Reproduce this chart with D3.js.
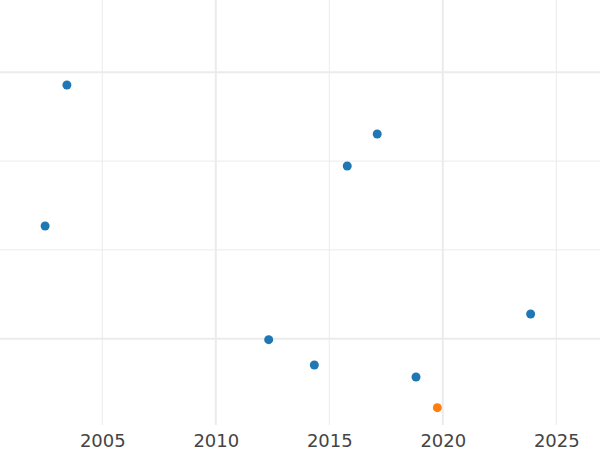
<!DOCTYPE html>
<html>
<head>
<meta charset="utf-8">
<script src="https://cdn.jsdelivr.net/npm/d3@7"></script>
<style>
  body { margin: 0; background: #fff; }
  svg { display: block; }
</style>
</head>
<body>
<svg></svg>
<script>
// dimensions
var WIDTH = 600;
var HEIGHT = 450;
var plotBottom = 425;

// data
const years  = [2003.44, 2002.48, 2017.11, 2015.79, 2012.33, 2014.34, 2018.82, 2023.87, 2019.76];
const values = [2.857, 1.269, 2.305, 1.945, -0.011, -0.296, -0.431, 0.278, -0.777];
const groups = ["a", "a", "a", "a", "a", "a", "a", "a", "b"];

// ticks
const xTicks = [2005, 2010, 2015, 2020, 2025];
const xMajor = [2010, 2020];
const yTicks = [0, 1, 2, 3];
const yMajor = [0, 3];

const svg = d3.select('svg')
    .attr('width', WIDTH)
    .attr('height', HEIGHT);

var x = d3.scaleLinear()
    .domain([2000.493, 2026.925])
    .range([0, WIDTH]);

var y = d3.scaleLinear()
    .domain([-0.972, 3.814])
    .range([plotBottom, 0]);

var color = d3.scaleOrdinal()
    .domain(["a", "b"])
    .range(["#1f77b4", "#ff7f0e"]);

// grid
var grid = svg.append('g');
grid.selectAll('line.vx')
    .data(xTicks)
    .enter()
    .append('line')
    .attr('x1', d => x(d)).attr('x2', d => x(d))
    .attr('y1', 0).attr('y2', plotBottom)
    .attr('stroke', '#ebebeb')
    .attr('stroke-width', d => xMajor.includes(d) ? 2 : 1);

grid.selectAll('line.hy')
    .data(yTicks)
    .enter()
    .append('line')
    .attr('x1', 0).attr('x2', WIDTH)
    .attr('y1', d => y(d)).attr('y2', d => y(d))
    .attr('stroke', '#ebebeb')
    .attr('stroke-width', d => yMajor.includes(d) ? 2 : 1);

// x axis labels
var xAxis = svg.append('g')
    .attr('transform', 'translate(0,' + plotBottom + ')')
    .call(d3.axisBottom(x).tickValues(xTicks).tickFormat(d3.format('d')).tickSize(0).tickPadding(9));
xAxis.select('.domain').remove();
xAxis.selectAll('text')
    .attr('fill', '#444')
    .style('font-family', 'DejaVu Sans, sans-serif')
    .style('font-size', '18px');

// points
var points = years.map((d, i) => ({year: d, value: values[i], group: groups[i]}));
svg.append('g')
    .selectAll('circle')
    .data(points)
    .enter()
    .append('circle')
    .attr('cx', d => x(d.year))
    .attr('cy', d => y(d.value))
    .attr('r', 4.5)
    .attr('fill', d => color(d.group));
</script>
</body>
</html>
